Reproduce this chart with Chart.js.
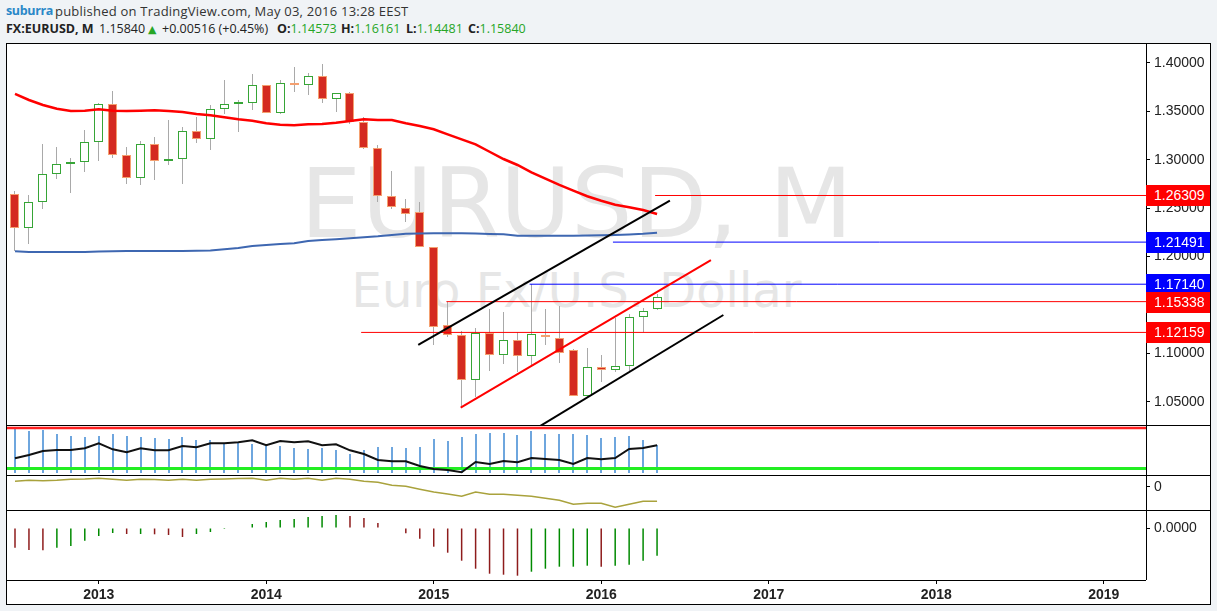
<!DOCTYPE html>
<html>
<head>
<meta charset="utf-8">
<script src="https://cdn.jsdelivr.net/npm/chart.js"></script>
<style>
  html, body { margin:0; padding:0; }
  body { width:1217px; height:611px; background:#f0f3f6; position:relative; overflow:hidden; font-family:"Liberation Sans", Arial, sans-serif; }
  .hdr { position:absolute; left:0; width:700px; height:14px; font-family:"Open Sans", sans-serif; font-size:12.5px; line-height:12.5px; white-space:nowrap; color:#333; }
  .hdr span { position:absolute; top:0; }
  .hdr .b { font-weight:bold; color:#222; }
  .g { color:#26a626; }
  #panel { position:absolute; left:6px; top:43px; width:1205px; height:562px; background:#fff; }
  .wm { position:absolute; left:7px; width:1139px; text-align:center; font-family:"DejaVu Sans", sans-serif; color:#e6e6e6; line-height:1; white-space:nowrap; }
  canvas { position:absolute; left:7px; }
  .ln { position:absolute; background:#000; z-index:5; }
  .tag { position:absolute; left:1146px; width:64px; height:21px; color:#fff; font-size:14px; line-height:21px; padding-left:8px; box-sizing:border-box; z-index:6; }
</style>
</head>
<body>
<div class="hdr" style="top:5px">
  <span style="left:6px;color:#2a88c8;font-weight:bold;letter-spacing:-0.35px">suburra</span>
  <span style="left:55px;top:-0.5px;font-size:13px;letter-spacing:0.22px">published on TradingView.com, May 03, 2016 13:28 EEST</span>
</div>
<div class="hdr" style="top:23px;color:#222">
  <span class="b" style="left:6px">FX:EURUSD, M</span>
  <span style="left:99px">1.15840</span>
  <span class="g" style="left:148px;top:1px;font-family:'DejaVu Sans';font-size:11px">▲</span>
  <span style="left:162px">+0.00516 (+0.45%)</span>
  <span style="left:277px"><b>O:</b><span class="g" style="position:static">1.14573</span></span>
  <span style="left:341px"><b>H:</b><span class="g" style="position:static">1.16161</span></span>
  <span style="left:406px"><b>L:</b><span class="g" style="position:static">1.14481</span></span>
  <span style="left:468px"><b>C:</b><span class="g" style="position:static">1.15840</span></span>
</div>
<div id="panel"></div>
<div class="wm" style="top:155px;font-size:97px">EURUSD, M</div>
<div class="wm" style="top:266px;font-size:48px">Euro Fx/U.S. Dollar</div>
<canvas id="c1" width="1203" height="382" style="top:43px"></canvas>
<canvas id="c2" width="1203" height="50" style="top:425px"></canvas>
<canvas id="c3" width="1203" height="35" style="top:475px"></canvas>
<canvas id="c4" width="1203" height="94" style="top:510px"></canvas>
<div class="ln" style="left:6px;top:43px;width:1205px;height:1px"></div>
<div class="ln" style="left:6px;top:604px;width:1205px;height:1px"></div>
<div class="ln" style="left:6px;top:43px;width:1px;height:562px"></div>
<div class="ln" style="left:1210px;top:43px;width:1px;height:562px"></div>
<div class="ln" style="left:1146px;top:43px;width:1px;height:537px"></div>
<div class="ln" style="left:6px;top:425px;width:1205px;height:1px"></div>
<div class="ln" style="left:6px;top:475px;width:1205px;height:1px"></div>
<div class="ln" style="left:6px;top:510px;width:1205px;height:1px"></div>
<div class="ln" style="left:6px;top:580px;width:1140px;height:1px"></div>
<script>
// ---------------- data ----------------
const months = ['2012-07','2012-08','2012-09','2012-10','2012-11','2012-12',
  '2013-01','2013-02','2013-03','2013-04','2013-05','2013-06','2013-07','2013-08','2013-09','2013-10','2013-11','2013-12',
  '2014-01','2014-02','2014-03','2014-04','2014-05','2014-06','2014-07','2014-08','2014-09','2014-10','2014-11','2014-12',
  '2015-01','2015-02','2015-03','2015-04','2015-05','2015-06','2015-07','2015-08','2015-09','2015-10','2015-11','2015-12',
  '2016-01','2016-02','2016-03','2016-04','2016-05'];

const opens = [1.2643,1.2292,1.2560,1.2850,1.2953,1.2974,1.3180,1.3573,1.3049,1.2812,
  1.3160,1.2984,1.3008,1.3297,1.3212,1.3522,1.3573,1.3583,1.3770,1.3483,
  1.3790,1.3770,1.3863,1.3625,1.3687,1.3393,1.3118,1.2626,1.2498,1.2457,
  1.2095,1.1295,1.1189,1.0724,1.1213,1.0983,1.1134,1.0972,1.1192,1.1162,
  1.1034,1.0559,1.0862,1.0828,1.0866,1.1372,1.14573];
const highs = [1.2677,1.2636,1.3163,1.3132,1.3018,1.3308,1.3583,1.3711,1.3132,1.3194,
  1.3235,1.3411,1.3339,1.3442,1.3566,1.3824,1.3618,1.3886,1.3775,1.3824,
  1.3959,1.3897,1.3990,1.3690,1.3704,1.3439,1.3150,1.2884,1.2595,1.2560,
  1.2100,1.1533,1.1231,1.1258,1.1455,1.1424,1.1217,1.1714,1.1458,1.1489,
  1.1040,1.1055,1.0983,1.1362,1.1406,1.1464,1.16161];
const lows = [1.2057,1.2133,1.2494,1.2804,1.2660,1.2877,1.2990,1.3015,1.2753,1.2742,
  1.2794,1.2949,1.2753,1.3176,1.3104,1.3476,1.3290,1.3517,1.3480,1.3476,
  1.3704,1.3672,1.3583,1.3497,1.3367,1.3115,1.2567,1.2488,1.2360,1.2095,
  1.1086,1.1172,1.0442,1.0552,1.0820,1.0886,1.0810,1.0862,1.1086,1.0897,
  1.0559,1.0550,1.0707,1.0810,1.0820,1.1223,1.14481];
const closes = [1.2292,1.2560,1.2850,1.2953,1.2974,1.3180,1.3573,1.3049,1.2812,1.3160,
  1.2984,1.3008,1.3297,1.3212,1.3522,1.3573,1.3583,1.3770,1.3483,1.3790,
  1.3770,1.3863,1.3625,1.3687,1.3393,1.3118,1.2626,1.2509,1.2440,1.2095,
  1.1275,1.1189,1.0724,1.1213,1.0983,1.1134,1.0972,1.1200,1.1165,1.1000,
  1.0559,1.0855,1.0828,1.0866,1.1372,1.1437,1.15840];

const maRed = [1.3680,1.3618,1.3566,1.3528,1.3504,1.3507,1.3522,1.3507,1.3504,1.3507,
  1.3511,1.3504,1.3494,1.3473,1.3460,1.3439,1.3418,1.3404,1.3377,1.3362,
  1.3356,1.3367,1.3370,1.3383,1.3401,1.3418,1.3411,1.3411,1.3377,1.3349,
  1.3315,1.3263,1.3211,1.3160,1.3083,1.3008,1.2946,1.2870,1.2804,1.2740,
  1.2681,1.2623,1.2577,1.2536,1.2509,1.2481,1.2440];
const maBlue = [1.2054,1.2047,1.2047,1.2047,1.2047,1.2047,1.2052,1.2054,1.2057,1.2057,
  1.2057,1.2057,1.2057,1.2059,1.2062,1.2075,1.2088,1.2109,1.2119,1.2130,
  1.2137,1.2161,1.2171,1.2178,1.2188,1.2199,1.2209,1.2223,1.2236,1.2238,
  1.2240,1.2240,1.2240,1.2238,1.2233,1.2230,1.2215,1.2215,1.2215,1.2215,
  1.2215,1.2217,1.2220,1.2223,1.2228,1.2235,1.2246];

const levelPrices = [1.26309, 1.21491, 1.17140, 1.15338, 1.12159];
const levelStarts = [45.86, 42.84, 36.87, 30.91, 24.8];
const channelUpper = [{x:28.89, y:1.1086}, {x:46.92, y:1.2577}];
const channelLower = [{x:37.0, y:1.0194}, {x:50.75, y:1.1396}];
const channelRed   = [{x:31.93, y:1.0438}, {x:49.86, y:1.1964}];

const oscBars = [86.4,83,85,77,73,71,73,77,73,71,
  69,67,71,65,65,59,59,57,53,53,
  49,47,49,45,37,45,51,51,49,51,
  67,63,71,77,79,79,75,83,77,77,
  77,75,69,71,73,65,55];
const oscLine = [28.4,35,43,45,45,48.4,58.4,46.4,40.4,48.4,
  44.4,44.4,53,50.4,58.4,58.4,60.4,64.4,54.4,63,
  60.4,62.4,54.4,56.4,44.4,37,25,22.4,22.4,13,
  7,5,0.4,21,17,23,20.4,29,27,25,
  17,29,26.4,29,47,49,54.4];
const oscUpper = 89;
const oscLower = 8;

const olive = [5.4,6.4,6.0,6.4,7.4,7.7,8.4,7.4,6.4,7.4,
  7.2,6.4,7.4,6.4,7.4,7.7,8.2,8.4,6.4,8.4,
  7.4,8.4,6.4,8.4,7.4,5.4,4.4,1.5,0.4,-2.6,
  -5.3,-7.3,-9.6,-5.3,-7.6,-7.6,-8.6,-9.6,-11.6,-13.6,
  -17.6,-16.6,-16.6,-20.6,-17.6,-14.6,-14.6];

const hist = [-0.0197,-0.0220,-0.0223,-0.0197,-0.0180,-0.0127,-0.0080,-0.0050,-0.0060,-0.0060,
  -0.0063,-0.0070,-0.0090,-0.0060,-0.0040,-0.0010,0.0000,0.0040,0.0060,0.0080,
  0.0090,0.0110,0.0120,0.0130,0.0120,0.0100,0.0050,0.0000,-0.0053,-0.0107,
  -0.0187,-0.0247,-0.0327,-0.0407,-0.0457,-0.0467,-0.0477,-0.0437,-0.0407,-0.0387,
  -0.0387,-0.0377,-0.0387,-0.0377,-0.0367,-0.0327,-0.0277];

const priceTicks = [1.05, 1.10, 1.15, 1.20, 1.25, 1.30, 1.35, 1.40];
const yearLabels = ['2013','2014','2015','2016','2017','2018','2019'];

// ---------------- layout / style ----------------
const X_MIN = -0.573, X_MAX = 81.03;
const P_MIN = 1.025917, P_MAX = 1.420667;
const LEVEL_COLORS = ['#ff0000','#0000ff','#0000ff','#ff0000','#ff0000'];
const AXIS_W = 64;
const FONT = '"Liberation Sans", Arial, sans-serif';
Chart.defaults.font.family = FONT;

const idx = months.map((_, i) => i);
const firstYear = +months[0].slice(0,4), firstMonth = +months[0].slice(5,7);
const yearTickPos = yearLabels.map(y => (+y - firstYear) * 12 + (1 - firstMonth));

// snap bar edges (computed by the scales) to whole pixels for crisp candles
const crisp = {
  id:'crisp',
  afterDatasetsUpdate(chart) {
    chart.data.datasets.forEach((ds, di) => {
      const meta = chart.getDatasetMeta(di);
      if (meta.type !== 'bar') return;
      meta.data.forEach(el => {
        const w = el.width;
        if (Math.abs(w - Math.round(w)) > 0.01) return;
        el.x = Math.round(el.x - w / 2) + w / 2;
        el.y = Math.round(el.y);
        el.base = Math.round(el.base);
      });
    });
  }
};

const baseOpts = (yOpts, xOpts) => ({
  responsive:false, maintainAspectRatio:false, animation:false, devicePixelRatio:1, events:[],
  layout:{ padding:0 },
  plugins:{ legend:{ display:false }, tooltip:{ enabled:false } },
  scales:{
    x: Object.assign({ type:'linear', min:X_MIN, max:X_MAX, offset:false, display:false,
      grid:{ offset:false } }, xOpts || {}),
    y: Object.assign({
      type:'linear', position:'right',
      afterFit: s => { s.width = AXIS_W; s.paddingTop = 0; s.paddingBottom = 0; },
      grid:{ display:true, drawOnChartArea:false, drawTicks:true, tickLength:4, color:'#000' },
      border:{ display:false },
      ticks:{ color:'#222', font:{ size:14 }, padding:4 }
    }, yOpts)
  }
});

const up = i => closes[i] >= opens[i];
const lineDs = (data, color, width, order) => ({ type:'line', data, borderColor:color, borderWidth:width,
  pointRadius:0, tension:0, fill:false, order });

// ---------------- main price chart ----------------
const c1 = new Chart(document.getElementById('c1'), {
  type:'line',
  plugins:[crisp],
  data:{ datasets:[
    { type:'bar', data: idx.map(i => ({ x:i, y:[lows[i], highs[i]] })), backgroundColor:'#a9a9a9',
      borderWidth:0, barThickness:1, grouped:false, inflateAmount:0, order:10 },
    { type:'bar', data: idx.map(i => ({ x:i, y:[opens[i], closes[i]] })),
      backgroundColor: c => up(c.dataIndex) ? '#ffffff' : '#d42b20',
      borderColor: c => up(c.dataIndex) ? '#36a536' : '#f4a070',
      borderWidth:1, borderSkipped:false, barThickness:9, grouped:false, minBarLength:2, inflateAmount:0, order:9 },
    lineDs(idx.map(i => ({ x:i, y:maBlue[i] })), '#3e67b1', 2, 6),
    lineDs(idx.map(i => ({ x:i, y:maRed[i] })), '#ff0000', 2.5, 5),
    ...levelPrices.map((p, k) => lineDs([{ x:levelStarts[k], y:p }, { x:X_MAX, y:p }], LEVEL_COLORS[k], 1, 3)),
    lineDs(channelUpper, '#000000', 2, 1),
    lineDs(channelLower, '#000000', 2, 1),
    lineDs(channelRed, '#ff0000', 2, 1)
  ]},
  options: baseOpts({
    min:P_MIN, max:P_MAX,
    afterBuildTicks: s => { s.ticks = priceTicks.map(v => ({ value:v })); },
    ticks:{ color:'#222', font:{ size:14 }, padding:4, callback: v => Number(v).toFixed(5) }
  })
});

// price tags on the axis, positioned with the chart's own y scale
levelPrices.forEach((p, k) => {
  const py = c1.scales.y.getPixelForValue(p);
  const d = document.createElement('div');
  d.className = 'tag';
  d.style.top = (Math.round(py) + 43 - 10) + 'px';
  d.style.background = LEVEL_COLORS[k];
  d.textContent = p.toFixed(5);
  document.body.appendChild(d);
});

// ---------------- oscillator panel ----------------
new Chart(document.getElementById('c2'), {
  type:'line',
  plugins:[crisp],
  data:{ datasets:[
    { type:'bar', data: idx.map(i => ({ x:i, y:oscBars[i] })), backgroundColor:'#6ea6de', borderWidth:0,
      barThickness:2, grouped:false, inflateAmount:0, order:10 },
    lineDs([{ x:X_MIN, y:oscUpper }, { x:X_MAX, y:oscUpper }], '#ff2020', 2.5, 3),
    lineDs([{ x:X_MIN, y:oscLower }, { x:X_MAX, y:oscLower }], '#22ee22', 3, 3),
    lineDs(idx.map(i => ({ x:i, y:oscLine[i] })), '#111111', 2, 1)
  ]},
  options: baseOpts({ min:-5, max:95, ticks:{ display:false }, grid:{ display:false } })
});

// ---------------- olive line panel ----------------
new Chart(document.getElementById('c3'), {
  type:'line',
  data:{ datasets:[ lineDs(idx.map(i => ({ x:i, y:olive[i] })), '#a9a23c', 1.5, 1) ]},
  options: baseOpts({
    min:-23.3, max:11.7,
    afterBuildTicks: s => { s.ticks = [{ value:0 }]; },
    ticks:{ color:'#222', font:{ size:14 }, padding:4, callback: v => String(v) }
  })
});

// ---------------- histogram panel + time axis ----------------
new Chart(document.getElementById('c4'), {
  type:'line',
  data:{ datasets:[
    { type:'bar', data: idx.map(i => ({ x:i, y:hist[i] })),
      backgroundColor: c => (c.dataIndex > 0 && hist[c.dataIndex] >= hist[c.dataIndex - 1]) ? '#008a00' : '#8e1c1c',
      borderWidth:0, barThickness:1.5, grouped:false, inflateAmount:0, order:1 }
  ]},
  options: baseOpts({
    min:-0.052, max:0.018,
    afterBuildTicks: s => { s.ticks = [{ value:0 }]; },
    ticks:{ color:'#222', font:{ size:14 }, padding:4, callback: v => Number(v).toFixed(4) }
  }, {
    display:true, position:'bottom', offset:false,
    afterFit: s => { s.height = 24; s.paddingLeft = 0; s.paddingRight = 0; },
    afterBuildTicks: s => { s.ticks = yearTickPos.map(v => ({ value:v })); },
    grid:{ display:true, offset:false, drawOnChartArea:false, drawTicks:true, tickLength:4, color:'#000' },
    border:{ display:false },
    ticks:{ color:'#222', font:{ size:14, weight:'bold' }, padding:3, maxRotation:0, autoSkip:false,
      callback: (v, i) => yearLabels[i] }
  })
});
</script>
</body>
</html>
